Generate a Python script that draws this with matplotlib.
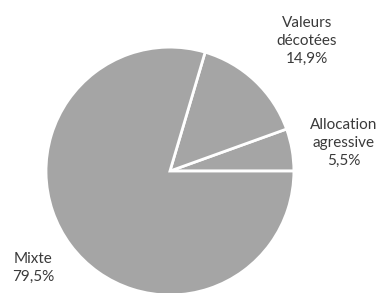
import matplotlib
matplotlib.use("Agg")
from matplotlib import pyplot as plt

categories = ["Allocation\nagressive", "Valeurs\ndécotées", "Mixte"]
shares = [5.5, 14.9, 79.5]

# label anchors in data units (pie radius = 1)
label_pos = [(1.40, 0.226), (1.105, 1.048), (-1.105, -0.782)]

fig = plt.figure(figsize=(3.82, 2.93), dpi=100)
ax = fig.add_axes([0.1204, -0.0068, 0.649, 0.846])
ax.pie(shares, startangle=0, counterclock=True, radius=1,
       colors=["#a5a5a5"] * len(shares),
       wedgeprops=dict(edgecolor="white", linewidth=2))
ax.set_xlim(-1, 1)
ax.set_ylim(-1, 1)
ax.set_aspect("equal")
ax.axis("off")

for name, val, (x, y) in zip(categories, shares, label_pos):
    txt = f"{name}\n{val:.1f}%".replace(".", ",")
    ax.text(x, y, txt, ha="center", va="center", fontsize=11,
            family="Lato", color="#3a3a3a", linespacing=1.38, clip_on=False)

fig.savefig("out.png", dpi=100)
